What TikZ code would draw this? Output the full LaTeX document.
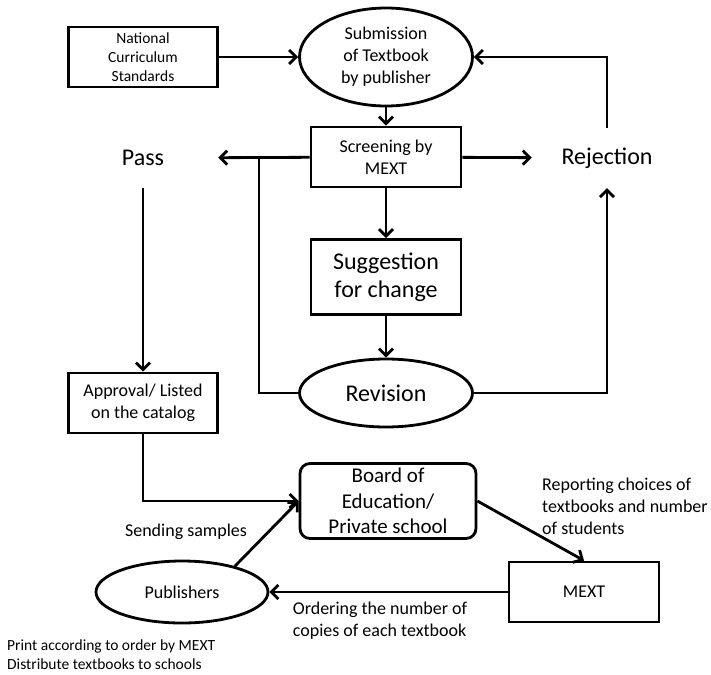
\documentclass[tikz,border=0pt]{standalone}
\usepackage{fontspec}
\setmainfont{Carlito}
\usetikzlibrary{positioning}
\usetikzlibrary{shapes.geometric}
\usetikzlibrary{arrows.meta}
\tikzstyle{box}=[draw, line width=2.8, inner sep=0, align=center]
\tikzstyle{oval}=[draw, ellipse, line width=2.8, inner sep=0, align=center]
\tikzstyle{plain}=[inner sep=0, align=center]
\tikzstyle{flow}=[line width=2.8]
\tikzset{>={Straight Barb[length=7,width=14]}}
\newcommand{\fsmall}{\fontsize{15.5}{19}\selectfont}
\newcommand{\fmid}{\fontsize{18}{22}\selectfont}
\newcommand{\fbig}{\fontsize{24}{28}\selectfont}

\begin{document}
\begin{tikzpicture}[x=1pt, y=-1pt]
    \useasboundingbox (0,0) rectangle (711,674);

    % upper part: screening loop
    \node[box, minimum width=149, minimum height=60, font=\fsmall] (ncs) at (143,57)
        {National\\Curriculum\\Standards};
    \node[oval, minimum width=173, minimum height=98, font=\fmid] (sub) at (386,57)
        {Submission\\of Textbook\\by publisher};
    \node[box, minimum width=150, minimum height=60, font=\fmid] (scr) at (386,157)
        {Screening by\\MEXT};
    \node[plain, minimum width=150, minimum height=60, font=\fbig] (pass) at (143,158) {Pass};
    \node[plain, minimum width=150, minimum height=60, font=\fbig] (rej) at (607,158) {Rejection};
    \node[box, minimum width=150, minimum height=75, font=\fbig] (sug) at (386,277)
        {Suggestion\\for change};
    \node[oval, minimum width=173, minimum height=68, font=\fbig] (rev) at (386,393) {Revision};
    \node[box, minimum width=149, minimum height=60, font=\fmid] (appr) at (143,403)
        {Approval/ Listed\\on the catalog};
    \coordinate (jn) at (259,157);

    \draw[flow, ->] (ncs) -- (sub);
    \draw[flow, ->] (sub) -- (scr);
    \draw[flow, ->] (scr) -- (rej);
    \draw[flow, ->] (scr) -- (pass);
    \draw[flow, ->] (rej.north) |- (sub.east);
    \draw[flow, ->] (scr) -- (sug);
    \draw[flow, ->] (sug) -- (rev);
    \draw[flow, ->] (rev.east) -| (rej.south);
    \draw[flow] (jn) |- (rev.west);
    \draw[flow, ->] (pass) -- (appr);

    % lower part: adoption and supply
    \node[box, rounded corners=10, minimum width=176, minimum height=75, font=\fontsize{21}{25.5}\selectfont]
        (board) at (388,501) {Board of\\Education/\\Private school};
    \node[box, minimum width=150, minimum height=60, font=\fmid] (mext) at (584,592) {MEXT};
    \node[oval, minimum width=172, minimum height=62, font=\fmid] (pub) at (182,592) {Publishers};

    \draw[flow, ->] (appr.south) |- (board.west);
    \draw[flow, ->] (pub.26) -- (board.west);
    \draw[flow, ->] (board.east) -- (mext.north);
    \draw[flow, ->] (mext) -- (pub);

    \node[plain, font=\fmid] (lsend) at (186,532) {Sending samples};
    \node[plain, align=left, font=\fmid] (lrep) at (625,506)
        {Reporting choices of\\textbooks and number\\of students};
    \node[plain, align=left, font=\fmid] (lord) at (380,621)
        {Ordering the number of\\copies of each textbook};
    \node[plain, align=left, font=\fsmall, anchor=west] (lprint) at (7,655)
        {Print according to order by MEXT\\Distribute textbooks to schools};

\end{tikzpicture}
\end{document}
